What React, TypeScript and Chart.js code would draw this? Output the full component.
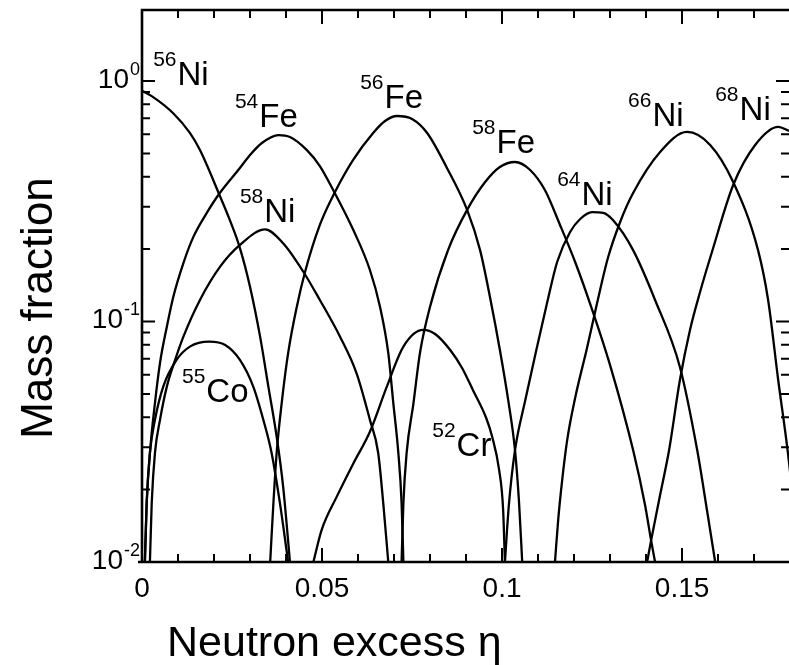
import React, { useEffect, useRef } from "react";
import { Chart, registerables } from "chart.js";

Chart.register(...registerables);

// ---------------- data (neutron excess eta, mass fraction X) ----------------
const ni56Eta = [0, 0.0031, 0.0086, 0.0133, 0.0161, 0.0214, 0.0244, 0.0272, 0.03, 0.0328, 0.0351, 0.0374, 0.0392, 0.0411];
const ni56X = [0.91, 0.857, 0.736, 0.608, 0.516, 0.339, 0.264, 0.202, 0.1395, 0.0865, 0.0536, 0.0332, 0.0206, 0.01];

const fe54Eta = [0.0008, 0.0013, 0.0022, 0.0036, 0.005, 0.0069, 0.0087, 0.0115, 0.0143, 0.018, 0.0214, 0.0272, 0.03, 0.0333, 0.0379, 0.0411, 0.0458, 0.0494, 0.0531, 0.0587, 0.0633, 0.0661, 0.0684, 0.0698, 0.0712, 0.0721, 0.0726];
const fe54X = [0.01, 0.0176, 0.0284, 0.0458, 0.0672, 0.0951, 0.1268, 0.175, 0.2253, 0.283, 0.339, 0.435, 0.4925, 0.5524, 0.596, 0.585, 0.516, 0.443, 0.352, 0.24, 0.1637, 0.1152, 0.074, 0.0458, 0.0284, 0.0176, 0.01];

const ni58Eta = [0.0022, 0.0027, 0.0036, 0.005, 0.0069, 0.0092, 0.0115, 0.0161, 0.0217, 0.0272, 0.0342, 0.0392, 0.0448, 0.0494, 0.055, 0.0596, 0.0633, 0.0656, 0.067, 0.0684];
const ni58X = [0.01, 0.0176, 0.0284, 0.039, 0.0536, 0.0692, 0.0865, 0.1229, 0.169, 0.208, 0.2416, 0.2114, 0.161, 0.1229, 0.0865, 0.0609, 0.039, 0.0284, 0.0176, 0.01];

const co55Eta = [0.0008, 0.0013, 0.0022, 0.0036, 0.0059, 0.0096, 0.0133, 0.0187, 0.0231, 0.0272, 0.0309, 0.0337, 0.036, 0.0383, 0.0406];
const co55X = [0.01, 0.0176, 0.0284, 0.039, 0.0536, 0.0692, 0.0786, 0.0824, 0.0798, 0.0692, 0.0536, 0.039, 0.0284, 0.0176, 0.01];

const fe56Eta = [0.0356, 0.0365, 0.0374, 0.0388, 0.0406, 0.043, 0.0453, 0.0494, 0.0536, 0.0586, 0.0642, 0.0675, 0.0708, 0.075, 0.0792, 0.0847, 0.0903, 0.0939, 0.0967, 0.0994, 0.1017, 0.1036, 0.1047, 0.1056];
const fe56X = [0.01, 0.0176, 0.0284, 0.0458, 0.074, 0.1152, 0.161, 0.252, 0.3455, 0.469, 0.608, 0.682, 0.715, 0.695, 0.608, 0.435, 0.291, 0.198, 0.1252, 0.0761, 0.0472, 0.0292, 0.0179, 0.01];

const cr52Eta = [0.0476, 0.0499, 0.0541, 0.0587, 0.0633, 0.068, 0.0726, 0.0781, 0.0814, 0.0856, 0.0889, 0.0919, 0.0956, 0.0972, 0.0992, 0.1003, 0.1008];
const cr52X = [0.01, 0.0136, 0.0187, 0.0257, 0.0348, 0.0536, 0.0786, 0.0922, 0.0887, 0.0761, 0.0641, 0.0519, 0.0397, 0.0334, 0.0241, 0.0165, 0.01];

const fe58Eta = [0.0721, 0.0726, 0.0735, 0.0754, 0.0772, 0.08, 0.085, 0.0903, 0.0953, 0.0994, 0.1036, 0.1078, 0.1119, 0.1161, 0.1203, 0.1244, 0.13, 0.1364, 0.1397, 0.1414, 0.1425];
const fe58X = [0.01, 0.0176, 0.0284, 0.0458, 0.074, 0.1152, 0.198, 0.291, 0.38, 0.439, 0.4604, 0.4266, 0.352, 0.252, 0.1768, 0.1193, 0.0659, 0.0292, 0.0173, 0.0123, 0.01];

const ni64Eta = [0.1008, 0.1019, 0.1036, 0.1064, 0.1094, 0.1125, 0.1153, 0.1189, 0.1217, 0.125, 0.1281, 0.1308, 0.1364, 0.1425, 0.1494, 0.1542, 0.1569, 0.1592];
const ni64X = [0.01, 0.0173, 0.0292, 0.0467, 0.0747, 0.1193, 0.1768, 0.2356, 0.2668, 0.285, 0.2826, 0.264, 0.198, 0.1229, 0.0647, 0.0292, 0.0165, 0.01];

const ni66Eta = [0.1147, 0.1156, 0.1167, 0.1181, 0.1203, 0.1236, 0.1264, 0.1294, 0.1328, 0.1364, 0.1439, 0.1514, 0.1578, 0.1642, 0.1711, 0.1739, 0.1767, 0.1794, 0.1814];
const ni66X = [0.01, 0.015, 0.0219, 0.0322, 0.0481, 0.0776, 0.1193, 0.1837, 0.2593, 0.342, 0.5068, 0.614, 0.542, 0.38, 0.198, 0.1229, 0.0571, 0.0284, 0.015];

const ni68Eta = [0.1403, 0.1414, 0.1439, 0.1464, 0.1494, 0.1522, 0.155, 0.1583, 0.1642, 0.1703, 0.1767, 0.1797];
const ni68X = [0.01, 0.0123, 0.019, 0.0292, 0.0571, 0.0922, 0.1327, 0.1945, 0.3694, 0.542, 0.645, 0.62];

// isotope labels: mass number, element, anchor (eta, X) at baseline-left
const labelMass = ["56", "54", "58", "56", "58", "64", "66", "68", "55", "52"];
const labelElem = ["Ni", "Fe", "Ni", "Fe", "Fe", "Ni", "Ni", "Ni", "Co", "Cr"];
const labelEta = [0.0031, 0.0258, 0.0272, 0.0606, 0.0917, 0.1153, 0.135, 0.1592, 0.0111, 0.0806];
const labelX = [0.962, 0.644, 0.259, 0.773, 0.502, 0.305, 0.65, 0.689, 0.0462, 0.0276];

// axes
const xMin = 0;
const xMax = 0.1797;
const yMin = 0.01;
const yMax = 1.973;
const xTickValues = [0, 0.05, 0.1, 0.15];
const xTickLabels = ["0", "0.05", "0.1", "0.15"];
const yDecadeExponents = [0, -1, -2];
const yDecadeLabels = ["0", "-1", "-2"];
const xTitle = "Neutron excess η";
const yTitle = "Mass fraction";

const FONT = '"Liberation Sans", Arial, Helvetica, sans-serif';

const series = [
  [ni56Eta, ni56X],
  [fe54Eta, fe54X],
  [ni58Eta, ni58X],
  [co55Eta, co55X],
  [fe56Eta, fe56X],
  [cr52Eta, cr52X],
  [fe58Eta, fe58X],
  [ni64Eta, ni64X],
  [ni66Eta, ni66X],
  [ni68Eta, ni68X],
];

const decorPlugin = {
  id: "decor",
  afterDatasetsDraw(chart: any) {
    const { ctx, chartArea: a, scales } = chart;
    const xs = scales.x;
    const ys = scales.y;
    ctx.save();
    ctx.strokeStyle = "#000";
    ctx.fillStyle = "#000";
    ctx.lineCap = "butt";

    // frame (left, bottom, top)
    ctx.lineWidth = 2.6;
    ctx.beginPath();
    ctx.moveTo(a.left, a.top - 1.3);
    ctx.lineTo(a.left, a.bottom + 1.3);
    ctx.moveTo(a.left - 4, a.bottom);
    ctx.lineTo(a.right, a.bottom);
    ctx.moveTo(a.left, a.top);
    ctx.lineTo(a.right, a.top);
    ctx.stroke();

    // x ticks (bottom and top, inward)
    ctx.lineWidth = 2;
    ctx.beginPath();
    for (let i = 1; i <= 18; i++) {
      const v = i / 100;
      if (v > xs.max) break;
      const px = Math.round(xs.getPixelForValue(v));
      const len = i % 5 === 0 ? 14 : 8;
      ctx.moveTo(px, a.bottom);
      ctx.lineTo(px, a.bottom - len);
      ctx.moveTo(px, a.top);
      ctx.lineTo(px, a.top + len);
    }
    // y ticks (left and right, inward)
    for (let d = -2; d <= 0; d++) {
      for (let k = 1; k <= 9; k++) {
        const v = k * Math.pow(10, d);
        if (v < ys.min || v > ys.max) continue;
        const py = ys.getPixelForValue(v);
        const len = k === 1 ? 13 : 8;
        ctx.moveTo(a.left, py);
        ctx.lineTo(a.left + len, py);
        ctx.moveTo(a.right, py);
        ctx.lineTo(a.right - len, py);
      }
    }
    ctx.stroke();

    // x tick labels
    ctx.font = `28px ${FONT}`;
    ctx.textAlign = "center";
    ctx.textBaseline = "alphabetic";
    xTickValues.forEach((v, i) => {
      ctx.fillText(xTickLabels[i], xs.getPixelForValue(v), a.bottom + 35);
    });

    // y tick labels: 10^n
    yDecadeExponents.forEach((e, i) => {
      const py = ys.getPixelForValue(Math.pow(10, e));
      const right = a.left - 2;
      ctx.font = `18px ${FONT}`;
      ctx.textAlign = "right";
      const sup = yDecadeLabels[i];
      const sw = ctx.measureText(sup).width;
      ctx.fillText(sup, right, py - 6);
      ctx.font = `28px ${FONT}`;
      ctx.fillText("10", right - sw - 1, py + 7);
    });

    // isotope labels
    ctx.textAlign = "left";
    labelMass.forEach((m, i) => {
      const px = xs.getPixelForValue(labelEta[i]);
      const py = ys.getPixelForValue(labelX[i]);
      ctx.font = `21px ${FONT}`;
      ctx.fillText(m, px, py - 19);
      const w = ctx.measureText(m).width;
      ctx.font = `33px ${FONT}`;
      ctx.fillText(labelElem[i], px + w + 1, py);
    });

    // axis titles
    ctx.font = `43px ${FONT}`;
    ctx.textAlign = "left";
    ctx.fillText(xTitle, 167, 656);

    ctx.save();
    ctx.translate(52, 308);
    ctx.rotate(-Math.PI / 2);
    ctx.font = `44px ${FONT}`;
    ctx.textAlign = "center";
    ctx.fillText(yTitle, 0, 0);
    ctx.restore();

    ctx.restore();
  },
};

export default function App() {
  const ref = useRef<HTMLCanvasElement | null>(null);
  useEffect(() => {
    document.body.style.margin = "0";
    const canvas = ref.current;
    if (!canvas) return;
    const chart = new Chart(canvas, {
      type: "line",
      data: {
        datasets: series.map(([etas, xs]) => ({
          data: etas.map((e, i) => ({ x: e, y: xs[i] })),
          borderColor: "#000",
          borderWidth: 2.3,
          pointRadius: 0,
          fill: false,
          cubicInterpolationMode: "monotone" as const,
          clip: 0,
        })),
      },
      options: {
        responsive: false,
        animation: false,
        devicePixelRatio: 1,
        layout: { padding: { left: 142, right: 0, top: 10, bottom: 103 } },
        plugins: { legend: { display: false }, tooltip: { enabled: false } },
        events: [],
        scales: {
          x: { type: "linear", min: xMin, max: xMax, display: false },
          y: { type: "logarithmic", min: yMin, max: yMax, display: false },
        },
      },
      plugins: [decorPlugin],
    });
    return () => chart.destroy();
  }, []);
  return (
    <canvas
      ref={ref}
      width={789}
      height={665}
      style={{ display: "block", position: "absolute", left: 0, top: 0, width: 789, height: 665, background: "#fff" }}
    />
  );
}
